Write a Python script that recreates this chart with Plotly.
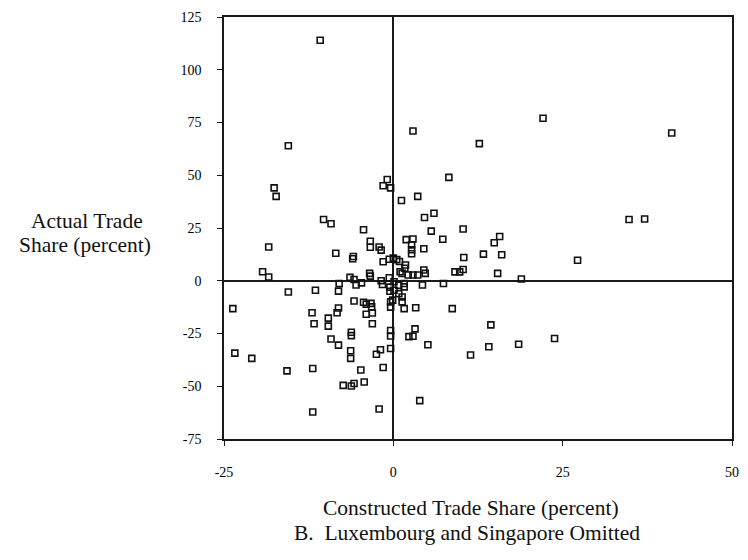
import plotly.graph_objects as go

# Constructed vs. actual trade share, by country (percent)
constructed = [
    -10.8, -15.5, 2.9, 8.2, 12.7, 22.1, 41.1,
    -0.9, -1.5, -0.4,
    -17.6, -17.3,
    1.2, 3.6,
    -10.3, -9.2,
    4.6, 6.0,
    34.8, 37.1,
    -4.4, 5.6, 10.3,
    -18.4, -8.5,
    -3.4, -3.4, -2.1, -1.8,
    1.9, 2.9, 7.3,
    2.7, 2.7, 2.7, 4.5,
    15.7, 14.9, 13.3, 16.0, 10.4,
    27.2,
    -5.9, -6.0,
    -1.5, -0.6, 0.0, 0.5, 0.9,
    1.8, 1.7, 1.0, 1.3,
    2.2, 2.9, 3.6, 4.5, 4.7,
    9.1, 9.8, 10.3, 15.4, 18.9,
    -19.3, -18.4,
    -6.4, -5.8, -3.5, -3.4, -0.6,
    -8.0, -4.7, -5.5, -1.8, -1.6,
    0.1, 0.8, 1.6, 0.1, -0.5, 1.6,
    0.8, 1.3, -0.1, 1.3,
    4.3, 7.4,
    -15.5, -11.5, -8.1, -0.5,
    -5.8, -4.4, -4.0, -3.3, -3.2, -0.4, -0.4,
    -23.7, -12.0, -8.1, -8.3, -4.0, -3.1,
    1.6, 3.3, 8.7,
    -9.6, -11.7, -9.6, -3.1,
    14.4,
    -6.2, -6.2, -0.4, -0.4,
    3.2, 2.9, 2.3, -9.2, 23.8,
    -8.1, 5.1, 18.5, 14.1,
    -6.3, -6.3, -2.5, -1.9, -0.4,
    -23.4, -20.9, 11.4,
    -15.7, -11.9, -4.8, -1.5,
    -7.4, -6.2, -5.8, -4.3,
    -11.9, -2.1, 3.9,
]
actual = [
    114.0, 64.0, 71.0, 49.0, 65.0, 77.0, 70.0,
    48.0, 45.0, 44.0,
    44.0, 40.0,
    38.0, 40.0,
    29.0, 27.0,
    30.0, 32.0,
    29.0, 29.3,
    24.2, 23.5, 24.5,
    16.0, 13.0,
    18.7, 15.9, 16.0, 14.5,
    19.5, 19.8, 19.7,
    17.0, 14.7, 12.8, 15.2,
    21.0, 18.0, 12.6, 12.3, 11.0,
    9.7,
    11.5, 10.4,
    9.0, 10.2, 10.7, 10.0, 9.1,
    7.5, 5.9, 4.3, 3.5,
    2.7, 2.7, 2.7, 5.1, 3.5,
    4.2, 4.2, 5.3, 3.5, 0.8,
    4.3, 1.8,
    1.6, 0.6, 3.5, 2.2, 1.4,
    -1.3, -1.0, -2.0, 0.0, -1.8,
    -0.5, -2.1, -2.9, -4.5, -3.0, -1.3,
    -6.1, -7.7, -9.2, -10.0,
    -2.0, -1.3,
    -5.3, -4.5, -4.9, -5.0,
    -9.6, -10.2, -11.1, -10.7, -12.4, -10.0, -12.5,
    -13.2, -15.2, -12.9, -15.2, -15.9, -15.3,
    -13.2, -12.8, -13.2,
    -17.7, -20.4, -21.5, -20.4,
    -20.9,
    -24.4, -26.0, -23.6, -26.2,
    -22.8, -26.3, -26.5, -27.6, -27.4,
    -30.5, -30.3, -30.1, -31.3,
    -33.2, -36.8, -34.8, -32.7, -32.1,
    -34.3, -36.8, -35.2,
    -42.7, -41.6, -42.3, -41.1,
    -49.6, -49.9, -48.7, -48.0,
    -62.2, -60.8, -56.8,
]

x_ticks = [-25, 0, 25, 50]
y_ticks = [-75, -50, -25, 0, 25, 50, 75, 100, 125]

SERIF = "Liberation Serif, Times New Roman, serif"
INK = "#111111"

# Figure geometry (pixels)
W, H = 748, 560
ML, MR, MT, MB = 224, 9, 17, 121
PW, PH = W - ML - MR, H - MT - MB


def px_to_paper(px, py):
    """Convert page pixel coordinates to paper coordinates of the plot area."""
    return (px - ML) / PW, (H - MB - py) / PH


fig = go.Figure(
    go.Scatter(
        x=constructed,
        y=actual,
        mode="markers",
        marker=dict(symbol="square-open", size=6, color=INK,
                    line=dict(width=1.6, color=INK)),
        hoverinfo="x+y",
    )
)

axis_common = dict(
    showgrid=False,
    showline=True,
    linecolor="#1a1a1a",
    linewidth=1.5,
    mirror=True,
    zeroline=True,
    zerolinecolor="#1a1a1a",
    zerolinewidth=1.5,
    ticks="outside",
    ticklen=5,
    tickwidth=1.3,
    tickcolor="#1a1a1a",
    tickfont=dict(family=SERIF, size=14, color="#000000"),
)

fig.update_xaxes(range=[-25, 50], tickvals=x_ticks,
                 ticktext=[str(v) for v in x_ticks],
                 ticklabelstandoff=14, **axis_common)
fig.update_yaxes(range=[-75, 125], tickvals=y_ticks,
                 ticktext=[str(v) for v in y_ticks],
                 ticklabelstandoff=13, **axis_common)

title_font = dict(family=SERIF, size=21.5, color=INK)


def text_at(text, px, py):
    x, y = px_to_paper(px, py)
    return dict(text=text, x=x, y=y, xref="paper", yref="paper",
                xanchor="center", yanchor="middle", showarrow=False,
                font=title_font)


fig.update_layout(
    width=W,
    height=H,
    margin=dict(l=ML, r=MR, t=MT, b=MB),
    paper_bgcolor="white",
    plot_bgcolor="white",
    showlegend=False,
    font=dict(family=SERIF, color=INK),
    annotations=[
        text_at("Actual Trade", 85, 221),
        text_at("Share (percent)", 83, 245),
        text_at("Constructed Trade Share (percent)", 474, 508),
        text_at("B.  Luxembourg and Singapore Omitted", 470, 533),
    ],
)

fig.write_html("out.html")
